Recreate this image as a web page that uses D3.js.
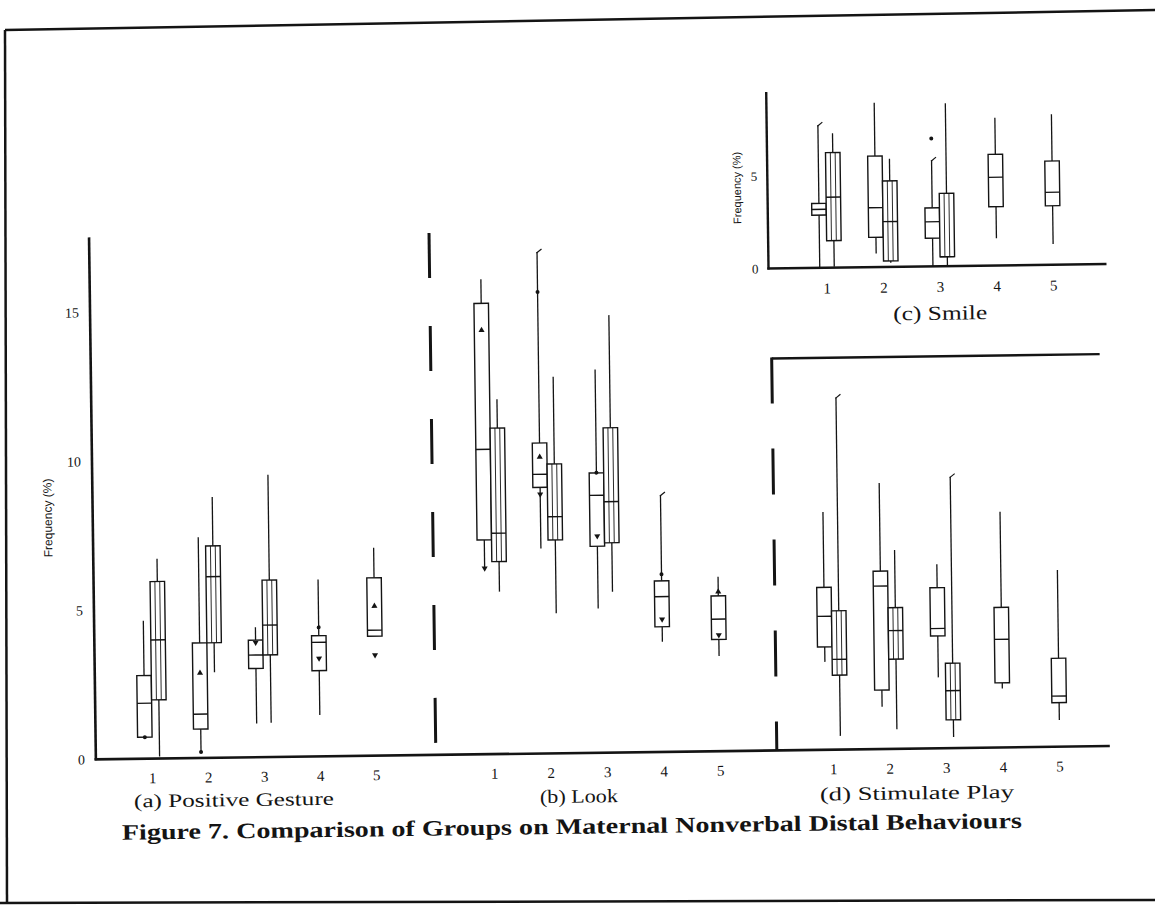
<!DOCTYPE html>
<html>
<head>
<meta charset="utf-8">
<script src="https://cdn.jsdelivr.net/npm/d3@7"></script>
<style>
html, body { margin: 0; padding: 0; background: #fff; }
svg { display: block; }
</style>
</head>
<body>
<div id="Figure"></div>
<script>
// groups 1..5 on every panel
const Groups = [1, 2, 3, 4, 5];
const MainTicks = [0, 5, 10, 15];
const SmileTicks = [0, 5];

// each box: [whisker low, lower quartile, median, upper quartile, whisker high]
// "Left" is the plain box, "Right" the hatched one (null where a group has a single box)
const GestureLeft = [[0.72, 0.72, 1.86, 2.79, 4.63], [0.20, 0.97, 1.47, 3.86, 7.41], [1.13, 2.98, 3.43, 3.93, 4.36], [1.39, 2.88, 3.83, 4.05, 5.94], [4.01, 4.01, 4.21, 5.97, 6.98]];
const GestureRight = [[0.07, 1.97, 3.98, 5.94, 6.70], [2.87, 3.86, 6.08, 7.11, 8.75], [1.15, 3.43, 4.43, 5.94, 9.47], null, null];

const LookLeft = [[6.24, 7.19, 10.23, 15.13, 15.94], [6.88, 8.93, 9.37, 10.42, 16.83], [4.84, 6.93, 8.64, 9.39, 12.86], [3.70, 4.20, 5.21, 5.74, 8.62], [3.19, 3.75, 4.43, 5.21, 5.85]];
const LookRight = [[5.45, 6.46, 7.41, 10.94, 11.91], [4.70, 7.16, 7.94, 9.71, 12.64], [5.40, 7.04, 8.42, 10.90, 14.68], null, null];

const SmileLeft = [[0, 2.85, 3.16, 3.48, 7.71], [0.74, 1.61, 3.21, 6.00, 8.88], [0, 1.52, 2.41, 3.16, 5.74], [1.47, 3.18, 4.77, 6.01, 7.99], [1.12, 3.19, 3.92, 5.61, 8.14]];
const SmileRight = [[0.05, 1.46, 3.81, 6.22, 7.26], [0.23, 0.32, 2.45, 4.65, 5.84], [0.06, 0.51, 0.51, 3.94, 8.81], null, null];

const PlayLeft = [[2.95, 3.45, 4.48, 5.45, 7.98], [1.42, 1.98, 5.47, 5.97, 8.93], [2.38, 3.77, 4.02, 5.39, 6.18], [1.98, 2.17, 3.63, 4.70, 7.91], [0.90, 1.48, 1.70, 2.97, 5.93]];
const PlayRight = [[0.46, 2.50, 3.03, 4.66, 11.82], [0.66, 3.01, 3.97, 4.74, 6.67], [0.37, 0.95, 1.93, 2.85, 9.11], null, null];

// small symbols printed on the boxes: [panel, group, box, value, symbol]
const Markers = [
    ['gesture', 1, 'left', 0.72, 'dot'],
    ['gesture', 2, 'left', 2.85, 'up'],
    ['gesture', 2, 'left', 0.20, 'dot'],
    ['gesture', 3, 'left', 3.85, 'down'],
    ['gesture', 4, 'left', 4.33, 'dot'],
    ['gesture', 4, 'left', 3.29, 'down'],
    ['gesture', 5, 'left', 5.02, 'up'],
    ['gesture', 5, 'left', 3.38, 'down'],
    ['look', 1, 'left', 14.23, 'up'],
    ['look', 1, 'left', 6.24, 'down'],
    ['look', 2, 'left', 9.95, 'up'],
    ['look', 2, 'left', 8.70, 'down'],
    ['look', 2, 'left', 15.49, 'dot'],
    ['look', 3, 'left', 9.40, 'dot'],
    ['look', 3, 'left', 7.27, 'down'],
    ['look', 4, 'left', 5.96, 'dot'],
    ['look', 4, 'left', 4.45, 'down'],
    ['look', 5, 'left', 5.35, 'up'],
    ['look', 5, 'left', 3.90, 'down'],
    ['smile', 3, 'left', 6.91, 'dot']
];
// whiskers whose top end carries a small flag
const Hooks = [['look', 2, 'left'], ['look', 4, 'left'], ['smile', 1, 'left'], ['smile', 3, 'left'], ['play', 1, 'right'], ['play', 3, 'right']];

const Width = 1155, Height = 921;
const Ink = '#141414';
const BoxW = 14.5;
const Serif = '"Liberation Serif", "Times New Roman", serif';
const Sans = '"Liberation Sans", Arial, sans-serif';

const Svg = d3.select('#Figure')
              .append('svg')
              .attr('width', Width)
              .attr('height', Height)
              .style('background-color', 'white');

// page border of the scan
[[5, 30, 1155, 10], [5, 30, 7, 903], [0, 903, 1155, 900]].forEach(l =>
{
    Svg.append('line')
       .attr('x1', l[0]).attr('y1', l[1]).attr('x2', l[2]).attr('y2', l[3])
       .attr('stroke', Ink).attr('stroke-width', 2.5);
});

// the printed figure sits slightly tilted on the scan
const Page = Svg.append('g').attr('transform', 'rotate(-0.75, 578, 460)');

const yMain = d3.scaleLinear().domain([0, 10]).range([753, 455]);
const ySmile = d3.scaleLinear().domain([0, 5]).range([271, 178.5]);
const xGesture = d3.scaleBand().domain(Groups).range([120.5, 400.5]);
const xLook = d3.scaleBand().domain(Groups).range([462.25, 744.75]);
const xRight = d3.scaleBand().domain(Groups).range([801.2, 1084.2]);

const Panels =
{
    gesture: { X: xGesture, Y: yMain, Left: GestureLeft, Right: GestureRight },
    look: { X: xLook, Y: yMain, Left: LookLeft, Right: LookRight },
    smile: { X: xRight, Y: ySmile, Left: SmileLeft, Right: SmileRight },
    play: { X: xRight, Y: yMain, Left: PlayLeft, Right: PlayRight }
};

function Line(x1, y1, x2, y2, w, dash)
{
    const l = Page.append('line')
                  .attr('x1', x1).attr('y1', y1).attr('x2', x2).attr('y2', y2)
                  .attr('stroke', Ink).attr('stroke-width', w);
    if (dash) l.attr('stroke-dasharray', dash);
    return l;
}

// x extent of a box: left/right of a pair, or centred when alone
function BoxSpan(P, g, side)
{
    const cx = P.X(g) + P.X.bandwidth() / 2;
    if (!P.Right[g - 1]) return [cx - BoxW / 2, cx + BoxW / 2];
    return side === 'left' ? [cx - BoxW, cx] : [cx, cx + BoxW];
}

function DrawBox(P, Stats, x0, x1, Hatched)
{
    const [lo, q1, med, q3, hi] = Stats;
    const mid = (x0 + x1) / 2;
    Line(mid, P.Y(hi), mid, P.Y(q3), 1.3);
    Line(mid, P.Y(q1), mid, P.Y(lo), 1.3);
    Page.append('rect')
        .attr('x', x0)
        .attr('y', P.Y(q3))
        .attr('width', x1 - x0)
        .attr('height', Math.max(P.Y(q1) - P.Y(q3), 1))
        .attr('fill', 'white')
        .attr('stroke', Ink)
        .attr('stroke-width', 1.4);
    if (Hatched)
    {
        const w = x1 - x0;
        Line(x0 + w / 3, P.Y(q3), x0 + w / 3, P.Y(q1), 0.9);
        Line(x0 + 2 * w / 3, P.Y(q3), x0 + 2 * w / 3, P.Y(q1), 0.9);
    }
    Line(x0, P.Y(med), x1, P.Y(med), 1.4);
}

Object.values(Panels).forEach(P =>
{
    Groups.forEach((g, i) =>
    {
        const [l0, l1] = BoxSpan(P, g, 'left');
        DrawBox(P, P.Left[i], l0, l1, false);
        if (P.Right[i])
        {
            const [r0, r1] = BoxSpan(P, g, 'right');
            DrawBox(P, P.Right[i], r0, r1, true);
        }
    });
});

Hooks.forEach(([name, g, side]) =>
{
    const P = Panels[name];
    const Stats = side === 'left' ? P.Left[g - 1] : P.Right[g - 1];
    const [x0, x1] = BoxSpan(P, g, side);
    const mid = (x0 + x1) / 2, top = P.Y(Stats[4]);
    Line(mid - 0.5, top + 1, mid + 4.5, top - 3, 1.2);
});

const TriUp = d3.symbol().type(d3.symbolTriangle).size(16);
Markers.forEach(([name, g, side, v, sym]) =>
{
    const P = Panels[name];
    const [x0, x1] = BoxSpan(P, g, side);
    const mid = (x0 + x1) / 2;
    if (sym === 'dot')
    {
        Page.append('circle').attr('cx', mid).attr('cy', P.Y(v)).attr('r', 2).attr('fill', Ink);
    }
    else
    {
        Page.append('path')
            .attr('d', TriUp())
            .attr('transform', `translate(${mid}, ${P.Y(v)}) rotate(${sym === 'down' ? 180 : 0})`)
            .attr('fill', Ink);
    }
});

// axes, baselines and panel borders
const Base = yMain(0);
Line(92, 231, 92, Base + 1, 2.6);
Line(90.7, Base, 1106, Base, 2.6);
Line(432, 231, 432, Base, 3, '45,48');
Line(773, 361, 1101, 361, 2.4);
Line(773, 360, 773, Base, 3, '46,45');
Line(771, 94.5, 771, ySmile(0) + 1, 2.4);
Line(769.8, ySmile(0), 1109, ySmile(0), 2.4);

function StyleAxis(g, size)
{
    g.select('.domain').remove();
    g.selectAll('text').attr('fill', Ink).attr('font-family', Serif).attr('font-size', size);
}

Page.append('g')
    .attr('transform', 'translate(92, 0)')
    .call(d3.axisLeft(yMain).tickValues(MainTicks).tickFormat(d3.format('d')).tickSize(0).tickPadding(11))
    .call(g => StyleAxis(g, 14));
Page.append('g')
    .attr('transform', 'translate(771, 0)')
    .call(d3.axisLeft(ySmile).tickValues(SmileTicks).tickFormat(d3.format('d')).tickSize(0).tickPadding(10))
    .call(g => StyleAxis(g, 13));

[xGesture, xLook, xRight].forEach(X =>
{
    Page.append('g')
        .attr('transform', `translate(0, ${Base})`)
        .call(d3.axisBottom(X).tickSize(0).tickPadding(14))
        .call(g => StyleAxis(g, 15));
});
Page.append('g')
    .attr('transform', `translate(0, ${ySmile(0)})`)
    .call(d3.axisBottom(xRight).tickSize(0).tickPadding(15))
    .call(g => StyleAxis(g, 15));

// texts
function Label(x, y, txt, size, opts = {})
{
    const t = Page.append('text')
                  .attr('x', x).attr('y', y)
                  .attr('dy', '0.35em')
                  .attr('text-anchor', 'middle')
                  .attr('fill', Ink)
                  .attr('font-family', opts.family || Serif)
                  .attr('font-size', size)
                  .text(txt);
    if (opts.bold) t.attr('font-weight', 'bold');
    if (opts.len) t.attr('textLength', opts.len).attr('lengthAdjust', 'spacingAndGlyphs');
    if (opts.rotate) t.attr('transform', `rotate(${opts.rotate}, ${x}, ${y})`);
    return t;
}

Label(229.5, 795, '(a) Positive Gesture', 19, { len: 200 });
Label(574.5, 796, '(b) Look', 19, { len: 78 });
Label(912.5, 797, '(d) Stimulate Play', 19, { len: 194 });
Label(942, 317.5, '(c) Smile', 20, { len: 94 });
Label(567, 826, 'Figure 7. Comparison of Groups on Maternal Nonverbal Distal Behaviours', 22, { bold: true, len: 900 });
Label(47, 511, 'Frequency (%)', 12, { family: Sans, rotate: -90 });
Label(740.5, 190, 'Frequency (%)', 11, { family: Sans, rotate: -90 });
</script>
</body>
</html>
